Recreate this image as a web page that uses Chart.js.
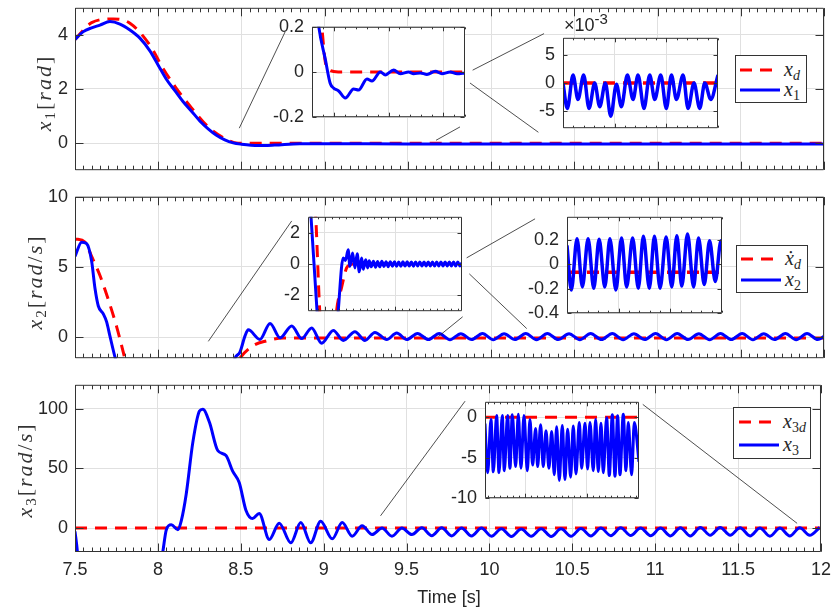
<!DOCTYPE html>
<html>
<head>
<meta charset="utf-8">
<title>x1, x2, x3 tracking</title>
<script src="https://cdn.jsdelivr.net/npm/chart.js@4.4.1/dist/chart.umd.min.js"></script>
<style>
  body { margin: 0; background: #fff; overflow: hidden; }
  #fig { position: relative; width: 835px; height: 612px; overflow: hidden; color: #262626; font-family: "Liberation Sans", Arial, sans-serif; }
  #fig canvas { position: absolute; }
  .ylab { position: absolute; z-index: 5; transform: translate(-50%, -50%) rotate(-90deg); white-space: nowrap; font: italic 22px "Liberation Serif", serif; letter-spacing: 2px; color: #333; }
  .up { font-style: normal; }
  sub { font-style: normal; font-size: 14px; vertical-align: -4px; line-height: 0; }
  .ylab sub { font-size: 15px; }
  .leg { position: absolute; z-index: 5; background: #fff; border: 1px solid #333; box-sizing: border-box; }
  .leg svg { position: absolute; left: 0; top: 0; }
  .leg span { position: absolute; font: italic 20px "Liberation Serif", serif; line-height: 24px; white-space: nowrap; }
  .note { position: absolute; z-index: 5; font-size: 18px; line-height: 22px; white-space: nowrap; }
  .note sup { font-size: 15px; vertical-align: 7px; line-height: 0; }
</style>
</head>
<body>
<div id="fig">
  <div class="ylab" style="left:44px;top:93px"><i>x</i><sub>1</sub><span class="up">[</span><i>rad</i><span class="up">]</span></div>
  <div class="ylab" style="left:35px;top:282px"><i>x</i><sub>2</sub><span class="up">[</span><i>rad</i><span class="up">/</span><i>s</i><span class="up">]</span></div>
  <div class="ylab" style="left:25px;top:470px"><i>x</i><sub>3</sub><span class="up">[</span><i>rad</i><span class="up">/</span><i>s</i><span class="up">]</span></div>

  <div class="leg" style="left:735px;top:55px;width:72px;height:48px">
    <svg width="72" height="48"><line x1="4" y1="14" x2="44" y2="14" stroke="#f00" stroke-width="3" stroke-dasharray="12 8"/><line x1="4" y1="34" x2="44" y2="34" stroke="#00f" stroke-width="3"/></svg>
    <span style="left:48px;top:1px"><i>x</i><sub><i>d</i></sub></span>
    <span style="left:48px;top:21px"><i>x</i><sub>1</sub></span>
  </div>
  <div class="leg" style="left:736px;top:245px;width:72px;height:48px">
    <svg width="72" height="48"><line x1="4" y1="13" x2="44" y2="13" stroke="#f00" stroke-width="3" stroke-dasharray="12 8"/><line x1="4" y1="34" x2="44" y2="34" stroke="#00f" stroke-width="3"/></svg>
    <span style="left:48px;top:0px"><i>ẋ</i><sub><i>d</i></sub></span>
    <span style="left:48px;top:21px"><i>x</i><sub>2</sub></span>
  </div>
  <div class="leg" style="left:733px;top:407px;width:78px;height:52px">
    <svg width="78" height="52"><line x1="5" y1="14" x2="45" y2="14" stroke="#f00" stroke-width="3" stroke-dasharray="12 8"/><line x1="5" y1="37" x2="45" y2="37" stroke="#00f" stroke-width="3"/></svg>
    <span style="left:49px;top:1px"><i>x</i><sub>3<i>d</i></sub></span>
    <span style="left:49px;top:24px"><i>x</i><sub>3</sub></span>
  </div>

  <div class="note" style="left:564px;top:14px">×10<sup>-3</sup></div>
  <div class="note" style="left:449px;top:586px;transform:translateX(-50%)">Time [s]</div>
</div>

<script>
// ---- data ----
const timeTicks = [7.5, 8, 8.5, 9, 9.5, 10, 10.5, 11, 11.5, 12];

// x1 and x_d
const t1 = [7.5, 7.55, 7.6, 7.65, 7.71, 7.77, 7.83, 7.89, 7.95, 8.0, 8.05, 8.1, 8.15, 8.2, 8.25, 8.3, 8.35, 8.4, 8.45, 8.5, 8.6, 8.7, 8.85, 9.0, 9.5, 10, 11, 12];
const x1 = [3.83, 4.12, 4.26, 4.36, 4.49, 4.4, 4.18, 3.88, 3.41, 2.88, 2.35, 1.94, 1.53, 1.18, 0.82, 0.53, 0.29, 0.12, 0.01, -0.04, -0.09, -0.07, -0.02, -0.02, -0.03, -0.03, -0.03, -0.03];
const tXd = [7.5, 7.6, 7.73, 7.83, 7.95, 8.03, 8.1, 8.2, 8.3, 8.4, 8.48, 12];
const xd = [3.83, 4.45, 4.59, 4.43, 3.62, 2.75, 2.1, 1.3, 0.6, 0.17, 0, 0];
const y1Ticks = [0, 2, 4];

// x2 and dot x_d
const t2 = [7.5, 7.54, 7.57, 7.6, 7.62, 7.64, 7.67, 7.69, 7.71, 7.74, 7.78, 8.0, 8.3, 8.44, 8.461, 8.491, 8.521, 8.541, 8.611, 8.672, 8.732, 8.802, 8.862, 8.922, 8.982, 9.052, 9.112, 9.182, 9.242, 9.302, 9.373, 9.433, 9.493,
  9.558, 9.623, 9.688, 9.753, 9.818, 9.883, 9.948, 10.013, 10.078, 10.143, 10.208, 10.273, 10.338, 10.403, 10.468, 10.533, 10.598, 10.663, 10.728,
  10.793, 10.858, 10.923, 10.988, 11.053, 11.118, 11.183, 11.248, 11.313, 11.378, 11.443, 11.508, 11.573, 11.638, 11.703, 11.768, 11.833, 11.898, 11.963, 12.0];
const x2 = [5.75, 6.77, 6.66, 5.41, 3.48, 2.22, 1.66, 1.09, 0.07, -1.41, -3, -6, -6, -2.5, -1.5, -1.07, 0.07, 0.52, -0.16, 0.98, -0.05, 0.8, -0.1, 0.66, -0.43, 0.48, -0.23, 0.39, -0.23, 0.34, -0.17, 0.3, -0.17,
  0.26, -0.17, 0.26, -0.18, 0.25, -0.17, 0.26, -0.18, 0.25, -0.17, 0.26, -0.18, 0.26, -0.17, 0.25, -0.18, 0.26, -0.17, 0.26,
  -0.18, 0.25, -0.17, 0.26, -0.18, 0.26, -0.17, 0.25, -0.18, 0.26, -0.17, 0.26, -0.18, 0.25, -0.17, 0.26, -0.18, 0.26, -0.17, 0.05];
const tXdDot = [7.5, 7.56, 7.6, 7.65, 7.7, 7.75, 7.79, 7.85, 8.2, 8.4, 8.491, 8.57, 8.65, 8.75, 12];
const xdDot = [7.0, 6.77, 5.75, 4.39, 2.68, 0.75, -1.07, -4, -6, -3.5, -1.5, -0.61, -0.27, -0.06, -0.06];
const y2Ticks = [0, 5, 10];

// x3 and x_3d
const t3 = [7.5, 7.514, 7.53, 7.8, 8.0, 8.03, 8.051, 8.081, 8.121, 8.141, 8.171, 8.211, 8.251, 8.271, 8.311, 8.361, 8.411, 8.451, 8.491, 8.531, 8.571, 8.611, 8.672, 8.732, 8.802, 8.862, 8.922, 8.982,
  9.052, 9.112, 9.172, 9.232, 9.292, 9.352, 9.412, 9.472, 9.532,
  9.592, 9.652, 9.712, 9.772, 9.832, 9.892, 9.952, 10.012, 10.072, 10.132, 10.192, 10.252, 10.312, 10.372, 10.432, 10.492, 10.552, 10.612, 10.672, 10.732,
  10.792, 10.852, 10.912, 10.972, 11.032, 11.092, 11.152, 11.212, 11.272, 11.332, 11.392, 11.452, 11.512, 11.572, 11.632, 11.692, 11.752, 11.812, 11.872, 11.932, 11.992];
const x3 = [-2.7, -19, -45, -60, -45, -19.6, -1.3, 2.8, -1.3, 6, 28.6, 72, 98, 99.5, 88.6, 65, 60.8, 47.7, 38, 15, 8, 12.3, -9.5, 4, -12.3, 4.6, -12.3, 5.7,
  -9, 4.6, -6.8, 2, -5.4, 0, -6.8, 0, -5.4,
  0.3, -6.3, 0.3, -6.5, 0.2, -6.6, 0, -6.8, -0.5, -7, -0.8, -6.8, -0.5, -7, -0.6, -6.8, -0.3, -6.6, 0, -6.3,
  0.3, -6.2, 0.2, -6.4, 0, -6.5, 0.3, -6.6, 0.5, -6, 0.6, -6, 0.3, -6.5, 0, -6.8, 0, -6.6, 0.3, -6, 0.5];
const tX3d = [7.5, 12];
const x3d = [0, 0];
const y3Ticks = [0, 50, 100];

// inset A (x1 near 8.3 - 9.7 s)
const tA = [8.34, 8.361, 8.422, 8.467, 8.498, 8.544, 8.605, 8.681, 8.726, 8.803, 8.849, 8.925, 8.971, 9.047, 9.108, 9.184, 9.23, 9.291, 9.352, 9.428, 9.489, 9.565, 9.627, 9.7];
const x1A = [0.3, 0.203, 0.056, -0.051, -0.071, -0.084, -0.115, -0.075, -0.08, -0.031, -0.04, 0, -0.013, 0.009, -0.008, 0, -0.008, -0.004, -0.011, 0.003, -0.008, 0, -0.008, -0.004];
const tAd = [8.36, 8.39, 8.42, 8.46, 8.54, 9.7];
const xdA = [0.35, 0.2, 0.05, 0.008, 0, 0];
const yATicks = [-0.2, 0, 0.2];
const xATicks = [8.5, 9, 9.5];

// inset B (x1 steady state, units of 1e-3)
const tB = [9.5, 9.542, 9.597, 9.645, 9.7, 9.752, 9.807, 9.855, 9.91, 9.962, 10.017, 10.065, 10.123, 10.178, 10.226, 10.284, 10.339, 10.388, 10.446, 10.5, 10.549, 10.598, 10.662, 10.71, 10.768, 10.823, 10.872, 10.93, 11.0];
const x1B = [0, -4.5, 1.4, -2.9, 1.4, -4.5, 0, -4.2, 0, -5.9, -0.2, -4.2, 1.4, -2.9, 1.4, -4.5, 1.4, -2.9, 1.4, -4.5, 1.4, -2.9, 1.4, -4.5, 0, -4.5, 0, -2.9, 1.4];
const tBd = [9.5, 11];
const xdB = [0, 0];
const yBTicks = [-5, 0, 5];
const xBTicks = [10, 10.5];

// inset C (x2 transient)
const tC = [7.79, 7.8, 7.89, 7.95, 8.12, 8.19, 8.26, 8.294, 8.331, 8.356, 8.394, 8.427, 8.46, 8.489, 8.523, 8.546, 8.58, 8.609,
  8.63, 8.66, 8.69, 8.72, 8.75, 8.78, 8.81, 8.84, 8.87, 8.9, 8.93, 8.96, 8.99, 9.02, 9.05, 9.08, 9.11, 9.14, 9.17, 9.2, 9.23, 9.26,
  9.29, 9.32, 9.35, 9.38, 9.41, 9.44, 9.47, 9.5, 9.53, 9.56, 9.59, 9.62, 9.65, 9.68, 9.71, 9.74, 9.77, 9.8, 9.83, 9.86, 9.89, 9.92, 9.95];
const x2C = [4.0, 3.2, -3.1, -7, -7, -2.97, 0.38, 0.23, 0.9, -0.15, 0.7, -0.25, 0.65, -0.5, 0.38, -0.34, 0.27, -0.25,
  0.2, -0.18, 0.18, -0.2, 0.16, -0.18, 0.17, -0.16, 0.15, -0.17, 0.15, -0.14, 0.14, -0.15, 0.13, -0.14, 0.14, -0.13, 0.14, -0.13, 0.13, -0.14,
  0.13, -0.12, 0.12, -0.13, 0.13, -0.12, 0.13, -0.12, 0.12, -0.13, 0.13, -0.12, 0.12, -0.13, 0.12, -0.12, 0.13, -0.12, 0.12, -0.13, 0.12, -0.12, 0.08];
const tCd = [7.84, 7.87, 7.927, 8.0, 8.1, 8.166, 8.237, 8.309, 8.356, 8.4, 9.95];
const xdC = [5, 3, -3, -7, -7, -3, -1.5, -0.25, -0.05, 0, 0];
const yCTicks = [-2, 0, 2];
const xCTicks = [8, 9];

// inset D (x2 steady state)
const tD = [10.0, 10.042, 10.097, 10.149, 10.204, 10.259, 10.311, 10.366, 10.415, 10.473, 10.528, 10.577, 10.635, 10.69, 10.739, 10.797, 10.846, 10.901, 10.959, 11.014, 11.063, 11.111, 11.166, 11.225, 11.273, 11.328, 11.38, 11.435, 11.49, 11.5];
const x2D = [0.156, -0.21, 0.21, -0.185, 0.21, -0.195, 0.205, -0.185, 0.21, -0.21, 0.217, -0.185, 0.217, -0.195, 0.23, -0.195, 0.23, -0.195, 0.225, -0.185, 0.235, -0.178, 0.25, -0.185, 0.217, -0.165, 0.193, -0.14, 0.193, 0.168];
const tDd = [10, 11.5];
const xdD = [-0.065, -0.065];
const yDTicks = [-0.4, -0.2, 0, 0.2];
const xDTicks = [10.5, 11];

// inset E (x3 steady state)
const tE = [9.35, 9.393, 9.447, 9.485, 9.539, 9.577, 9.631, 9.663, 9.717, 9.755, 9.793, 9.847, 9.891, 9.934, 9.983, 10.037, 10.08, 10.123, 10.172, 10.204,
  10.253, 10.296, 10.34, 10.388, 10.432, 10.475, 10.513, 10.556, 10.605, 10.648, 10.691, 10.74, 10.783, 10.827, 10.881, 10.919, 10.973, 11.016, 11.054, 11.108,
  11.146, 11.189, 11.233, 11.27, 11.325, 11.368, 11.417, 11.46, 11.503, 11.541, 11.595, 11.638, 11.676, 11.73, 11.774, 11.85];
const x3E = [-0.8, -6.85, -0.3, -6.74, 0.2, -6.85, 0.2, -6.6, 0.2, -6.3, 0.3, -6.1, 0.37, -6.3, 0.2, -6.6, -0.3, -5.9, -1.4, -6.1,
  -0.93, -6.1, -1.67, -6.3, -1.78, -7.1, -1.19, -7.8, -1.04, -7.7, -1.48, -7.4, -1.1, -7.0, -0.67, -6.3, -0.74, -6.4, -0.67, -6.6,
  -0.3, -6.7, -0.74, -6.85, -0.07, -7.2, 0.3, -7.3, 0.19, -7.1, 0.37, -6.6, -0.67, -7.1, -0.67, -5.5];
const tEd = [9.35, 11.85];
const x3dE = [0, 0];
const yETicks = [-10, -5, 0];
const xETicks = [10, 11];

// ---- drawing ----
Chart.defaults.font.family = '"Liberation Sans", Arial, sans-serif';
Chart.defaults.font.size = 18;
Chart.defaults.color = '#262626';

const GRID = '#e0e0e0';
const INK = '#333333';
const fig = document.getElementById('fig');

const pts = (xs, ys) => xs.map((x, i) => ({ x, y: ys[i] }));
const blue = (xs, ys, w) => ({ data: pts(xs, ys), borderColor: '#0000ff', borderWidth: w || 3, pointRadius: 0, cubicInterpolationMode: 'monotone', clip: 0, order: 1 });
const red = (xs, ys, w) => ({ data: pts(xs, ys), borderColor: '#ff0000', borderWidth: w || 3, borderDash: [12, 8], pointRadius: 0, cubicInterpolationMode: 'monotone', clip: 0, order: 2 });

// white plot box, boxed frame with inward ticks, zoom connector lines
const frame = {
  id: 'frame',
  beforeDraw(chart) {
    const a = chart.chartArea;
    chart.ctx.save();
    chart.ctx.fillStyle = '#fff';
    chart.ctx.fillRect(a.left, a.top, a.width, a.height);
    chart.ctx.restore();
  },
  afterDraw(chart, args, o) {
    const { ctx, chartArea: a, scales: { x, y } } = chart;
    const L = a.left + 0.5, R = a.right - 0.5, T = a.top + 0.5, B = a.bottom - 0.5;
    const px = v => Math.round(x.getPixelForValue(v)) + 0.5;
    const py = v => Math.round(y.getPixelForValue(v)) + 0.5;
    ctx.save();
    ctx.strokeStyle = INK;
    ctx.lineWidth = 1;
    ctx.beginPath();
    ctx.rect(L, T, R - L, B - T);
    x.ticks.forEach(t => {
      const p = px(t.value);
      ctx.moveTo(p, B); ctx.lineTo(p, B - o.major);
      ctx.moveTo(p, T); ctx.lineTo(p, T + o.major);
    });
    const k0 = Math.ceil(x.min / o.minorStep - 1e-6), k1 = Math.floor(x.max / o.minorStep + 1e-6);
    for (let k = k0; k <= k1; k++) {
      const p = px(k * o.minorStep);
      ctx.moveTo(p, B); ctx.lineTo(p, B - o.minor);
      ctx.moveTo(p, T); ctx.lineTo(p, T + o.minor);
    }
    y.ticks.forEach(t => {
      const p = py(t.value);
      ctx.moveTo(L, p); ctx.lineTo(L + o.major, p);
      ctx.moveTo(R, p); ctx.lineTo(R - o.major, p);
    });
    ctx.stroke();

    ctx.strokeStyle = '#222';
    ctx.lineWidth = 0.8;
    ctx.beginPath();
    (o.links || []).forEach(l => {
      ctx.moveTo(x.getPixelForValue(l[0]), y.getPixelForValue(l[1]));
      ctx.lineTo(x.getPixelForValue(l[2]), y.getPixelForValue(l[3]));
    });
    ctx.stroke();
    ctx.restore();
  }
};
Chart.register(frame);

function panel(box, p) {
  const PT = 14, PR = p.padRight;
  const cv = document.createElement('canvas');
  cv.width = p.gutter + (box.r - box.l) + PR;
  cv.height = PT + (box.b - box.t) + p.xh;
  fig.appendChild(cv);
  const chart = new Chart(cv, {
    type: 'line',
    data: { datasets: p.datasets },
    options: {
      responsive: false,
      animation: false,
      devicePixelRatio: 1,
      events: [],
      layout: { padding: { left: 0, top: PT, right: PR, bottom: 0 } },
      plugins: {
        legend: { display: false },
        tooltip: { enabled: false },
        frame: { major: p.major, minor: p.minor, minorStep: p.minorStep, links: p.links }
      },
      scales: {
        x: {
          type: 'linear', min: p.x[0], max: p.x[1],
          afterBuildTicks: s => { s.ticks = p.xTicks.map(v => ({ value: v })); },
          afterFit: s => { s.height = p.xh; },
          grid: { color: GRID, drawTicks: false },
          border: { display: false },
          ticks: { display: !!p.xLabels, padding: 7, autoSkip: false, maxRotation: 0, callback: v => String(v) }
        },
        y: {
          type: 'linear', min: p.y[0], max: p.y[1],
          afterBuildTicks: s => { s.ticks = p.yTicks.map(v => ({ value: v })); },
          afterFit: s => { s.width = p.gutter; },
          grid: { color: GRID, drawTicks: false },
          border: { display: false },
          ticks: { padding: p.ypad, autoSkip: false, callback: v => String(v) }
        }
      }
    }
  });
  const a = chart.chartArea;
  cv.style.left = (box.l - a.left) + 'px';
  cv.style.top = (box.t - a.top) + 'px';
  return chart;
}

const main = { gutter: 75, padRight: 14, xh: 14, x: [7.5, 12], xTicks: timeTicks, major: 8, minor: 4, minorStep: 0.05, ypad: 7 };
const inset = { gutter: 50, padRight: 6, xh: 14, major: 4, minor: 2, minorStep: 0.1, ypad: 8 };

panel({ l: 75, t: 8, r: 824, b: 178 }, Object.assign({}, main, {
  y: [-1, 5], yTicks: y1Ticks,
  datasets: [blue(t1, x1), red(tXd, xd)],
  links: [[8.487, 0.553, 8.762, 4.107], [9.669, 0.105, 9.813, 0.599], [9.889, 2.696, 10.318, 4.047], [9.873, 2.222, 10.284, 0.401]]
}));
panel({ l: 75, t: 197, r: 824, b: 366 }, Object.assign({}, main, {
  y: [-1.5, 10], yTicks: y2Ticks,
  datasets: [blue(t2, x2), red(tXdDot, xdDot)],
  links: [[8.301, -0.3, 8.802, 8.28], [9.853, 5.65, 10.264, 8.43], [9.869, 4.51, 10.214, 0.61], [9.683, 0.045, 9.829, 1.45]]
}));
panel({ l: 75, t: 385, r: 824, b: 556 }, Object.assign({}, main, {
  xh: 40, xLabels: true,
  y: [-20, 120], yTicks: y3Ticks,
  datasets: [blue(t3, x3), red(tX3d, x3d)],
  links: [[9.343, 10.3, 9.853, 106.3], [10.925, 103.6, 11.856, 4.0]]
}));

panel({ l: 312, t: 27, r: 465, b: 127 }, Object.assign({}, inset, {
  x: [8.3, 9.7], xTicks: xATicks, y: [-0.2, 0.2], yTicks: yATicks,
  datasets: [blue(tA, x1A, 3), red(tAd, xdA, 3)]
}));
panel({ l: 563, t: 38, r: 718, b: 138 }, Object.assign({}, inset, {
  x: [9.5, 11], xTicks: xBTicks, y: [-8, 8], yTicks: yBTicks,
  datasets: [blue(tB, x1B, 3.5), red(tBd, xdB, 3.5)]
}));
panel({ l: 308, t: 217, r: 462, b: 321 }, Object.assign({}, inset, {
  x: [7.76, 9.95], xTicks: xCTicks, y: [-3, 3], yTicks: yCTicks,
  datasets: [blue(tC, x2C, 3), red(tCd, xdC, 3)]
}));
panel({ l: 567, t: 217, r: 722, b: 323 }, Object.assign({}, inset, {
  x: [10, 11.5], xTicks: xDTicks, y: [-0.4, 0.39], yTicks: yDTicks,
  datasets: [blue(tD, x2D, 3.5), red(tDd, xdD, 3.5)]
}));
panel({ l: 485, t: 402, r: 639, b: 508 }, Object.assign({}, inset, {
  x: [9.35, 11.85], xTicks: xETicks, y: [-10, 1.9], yTicks: yETicks,
  datasets: [blue(tE, x3E, 3), red(tEd, x3dE, 3)]
}));
</script>
</body>
</html>
